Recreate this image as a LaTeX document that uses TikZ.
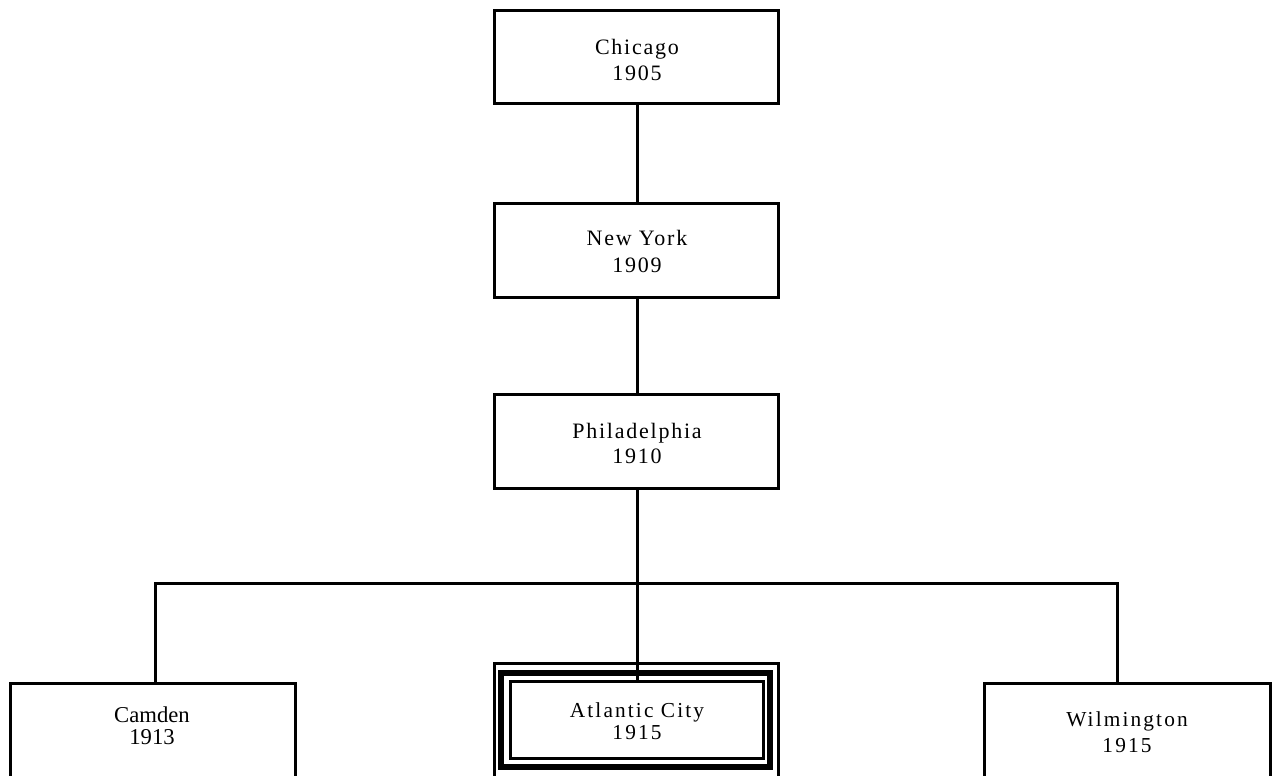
\documentclass[tikz,border=0pt]{standalone}
\usepackage{fontspec}
\setmainfont{Liberation Serif}
\newfontfamily\trackA[LetterSpace=8]{Liberation Serif}
\newfontfamily\trackB[LetterSpace=10]{Liberation Serif}
\begin{document}
\begin{tikzpicture}[x=0.75pt,y=-0.75pt,
  lbl/.style={anchor=base,inner sep=0pt},
  conn/.style={line width=2.25pt}]
\useasboundingbox (0,0) rectangle (1273,775);
\clip (0,0) rectangle (1273,775);
% top boxes
\node[draw,line width=2.25pt,minimum width=284*0.75pt,minimum height=93*0.75pt] (chi) at (636,56.5) {};
\node[draw,line width=2.25pt,minimum width=284*0.75pt,minimum height=94*0.75pt] (ny) at (636,250) {};
\node[draw,line width=2.25pt,minimum width=284*0.75pt,minimum height=94*0.75pt] (phi) at (636,441) {};
% bottom boxes (extend past the lower edge)
\node[draw,line width=2.25pt,minimum width=285*0.75pt,minimum height=120*0.75pt] (cam) at (152.5,743) {};
\node[draw,line width=2.25pt,minimum width=286*0.75pt,minimum height=120*0.75pt] (wil) at (1127,743) {};
\node[draw,line width=2.25pt,minimum width=284*0.75pt,minimum height=140*0.75pt] (acout) at (636,733) {};
\node[draw,line width=4.5pt,minimum width=269*0.75pt,minimum height=94*0.75pt] (acmid) at (635.5,720) {};
\node[draw,line width=2.25pt,minimum width=253*0.75pt,minimum height=77*0.75pt] (acin) at (636.5,719.5) {};
% labels
\node[lbl] (chiA) at (637,54) {\trackA\fontsize{16.5}{19}\selectfont Chicago};
\node[lbl] (chiB) at (637,80) {\trackA\fontsize{16.5}{19}\selectfont 1905};
\node[lbl] (nyA) at (637,245) {\trackA\fontsize{16.5}{19}\selectfont New York};
\node[lbl] (nyB) at (637,272) {\trackA\fontsize{16.5}{19}\selectfont 1909};
\node[lbl] (phiA) at (637,438) {\trackA\fontsize{16.5}{19}\selectfont Philadelphia};
\node[lbl] (phiB) at (637,463) {\trackA\fontsize{16.5}{19}\selectfont 1910};
\node[lbl] (camA) at (152,722) {\fontsize{17}{20}\selectfont Camden};
\node[lbl] (camB) at (152,744) {\fontsize{17}{20}\selectfont 1913};
\node[lbl] (acA) at (637,717) {\trackB\fontsize{16}{19}\selectfont Atlantic City};
\node[lbl] (acB) at (637,739) {\trackB\fontsize{16}{19}\selectfont 1915};
\node[lbl] (wilA) at (1127,726) {\trackB\fontsize{16}{19}\selectfont Wilmington};
\node[lbl] (wilB) at (1127,752) {\trackB\fontsize{16}{19}\selectfont 1915};
% connectors
\coordinate (jl) at (155,583);
\coordinate (jr) at (1117,583);
\draw[conn] (chi.south -| 637,0) -- (ny.north -| 637,0);
\draw[conn] (ny.south -| 637,0) -- (phi.north -| 637,0);
\draw[conn] (phi.south -| 637,0) -- (acin.north -| 637,0);
\draw[conn] (jl |- cam.north) -- (jl) -- (jr) -- (jr |- wil.north);
\end{tikzpicture}
\end{document}
